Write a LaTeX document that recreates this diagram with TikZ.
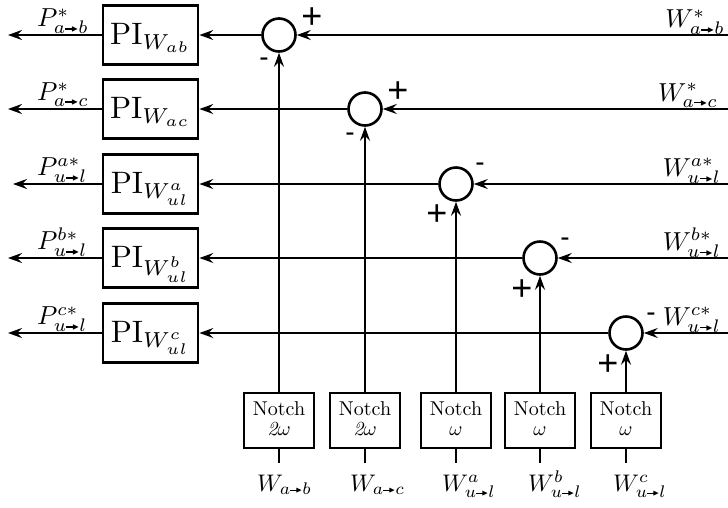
\documentclass[tikz,border=0pt]{standalone}
\usepackage{amsmath,amssymb}
\usepackage{fontspec}
\newfontfamily\signfont{Liberation Sans}
\usetikzlibrary{arrows.meta}

% short arrow with a filled head, used inside subscripts
\newcommand{\tarr}{\mathrel{\text{\rule[0.22em]{0.45em}{0.08em}\kern-0.12em\raisebox{0.13em}{\scalebox{0.45}{$\blacktriangleright$}}}}}
% text set at 10pt and enlarged
\newcommand{\enl}[2]{\scalebox{#1}{#2}}

\begin{document}
\begin{tikzpicture}[x=1pt,y=-1pt,
  line width=2.2pt,
  >={Stealth[length=14pt,width=10pt,inset=5pt]},
  pibox/.style={draw,line width=2.8pt,minimum width=95pt,minimum height=59pt,
    inner sep=0pt,text height=25pt,text depth=6pt},
  sumnode/.style={draw,circle,line width=2.6pt,minimum size=33pt,inner sep=0pt},
  notchbox/.style={draw,line width=2.6pt,minimum width=70pt,minimum height=55pt,
    inner sep=0pt,align=center},
  plussign/.style={font=\signfont\fontsize{36}{36}\selectfont,inner sep=0pt},
  minussign/.style={font=\signfont\fontsize{28}{28}\selectfont,inner sep=0pt},
  textlabel/.style={anchor=base west,inner sep=0pt},
  rightlabel/.style={anchor=base east,inner sep=0pt},
]
\useasboundingbox (0,0) rectangle (728,507);

% PI controllers
\node[pibox] (pi1) at (150.5,35)  {\enl{3.1}{$\mathrm{PI}_{W_{ab}}$}};
\node[pibox] (pi2) at (150.5,109) {\enl{3.1}{$\mathrm{PI}_{W_{ac}}$}};
\node[pibox] (pi3) at (150.5,184) {\enl{3.1}{$\mathrm{PI}_{W^{a}_{ul}}$}};
\node[pibox] (pi4) at (150.5,258) {\enl{3.1}{$\mathrm{PI}_{W^{b}_{ul}}$}};
\node[pibox] (pi5) at (150.5,333) {\enl{3.1}{$\mathrm{PI}_{W^{c}_{ul}}$}};

% summing junctions
\node[sumnode] (s1) at (279,35)  {};
\node[sumnode] (s2) at (365,109) {};
\node[sumnode] (s3) at (456,184) {};
\node[sumnode] (s4) at (540,258) {};
\node[sumnode] (s5) at (626,333) {};

% notch filters
\node[notchbox] (n1) at (279,420.5) {\enl{2}{\begin{tabular}{@{}c@{}}Notch\\[-2pt]$\mathit{2}\omega$\end{tabular}}};
\node[notchbox] (n2) at (365,420.5) {\enl{2}{\begin{tabular}{@{}c@{}}Notch\\[-2pt]$\mathit{2}\omega$\end{tabular}}};
\node[notchbox] (n3) at (456,420.5) {\enl{2}{\begin{tabular}{@{}c@{}}Notch\\[-2pt]$\omega$\end{tabular}}};
\node[notchbox] (n4) at (540,420.5) {\enl{2}{\begin{tabular}{@{}c@{}}Notch\\[-2pt]$\omega$\end{tabular}}};
\node[notchbox] (n5) at (626,420.5) {\enl{2}{\begin{tabular}{@{}c@{}}Notch\\[-2pt]$\omega$\end{tabular}}};

% free ends
\coordinate (o1) at (8,35);
\coordinate (o2) at (8,109);
\coordinate (o3) at (13,184);
\coordinate (o4) at (8,258);
\coordinate (o5) at (8,333);
\coordinate (r1) at (728,35);
\coordinate (r2) at (728,109);
\coordinate (r3) at (728,184);
\coordinate (r4) at (728,258);
\coordinate (r5) at (728,333);
\coordinate (m1) at (279,463);
\coordinate (m2) at (365,463);
\coordinate (m3) at (456,463);
\coordinate (m4) at (540,463);
\coordinate (m5) at (626,463);

% connectors
\foreach \i in {1,...,5}{
  \draw[->] (pi\i.west) -- (o\i);
  \draw[->] (s\i.west) -- (pi\i.east);
  \draw[->] (r\i) -- (s\i.east);
  \draw[->] (n\i.north) -- (s\i.south);
  \draw (n\i.south) -- (m\i);
}

% signs
\node[plussign]  (p1) at (312,18)  {+};
\node[minussign] (q1) at (264,62)  {-};
\node[plussign]  (p2) at (398,92)  {+};
\node[minussign] (q2) at (350,137) {-};
\node[minussign] (q3) at (480,167) {-};
\node[plussign]  (p3) at (437,215) {+};
\node[minussign] (q4) at (565,242) {-};
\node[plussign]  (p4) at (522,290) {+};
\node[minussign] (q5) at (651,317) {-};
\node[plussign]  (p5) at (608,365) {+};

% output labels
\node[textlabel] (lo1) at (36,26.5)  {\enl{2.6}{$P^{*}_{a\tarr b}$}};
\node[textlabel] (lo2) at (36,100.5) {\enl{2.6}{$P^{*}_{a\tarr c}$}};
\node[textlabel] (lo3) at (36,175.5) {\enl{2.6}{$P^{a*}_{u\tarr l}$}};
\node[textlabel] (lo4) at (36,249.5) {\enl{2.6}{$P^{b*}_{u\tarr l}$}};
\node[textlabel] (lo5) at (36,324.5) {\enl{2.6}{$P^{c*}_{u\tarr l}$}};

% reference labels
\node[rightlabel] (lr1) at (726,27.5)  {\enl{2.6}{$W^{*}_{a\tarr b}$}};
\node[rightlabel] (lr2) at (719,101) {\enl{2.6}{$W^{*}_{a\tarr c}$}};
\node[rightlabel] (lr3) at (722,176) {\enl{2.6}{$W^{a*}_{u\tarr l}$}};
\node[rightlabel] (lr4) at (722,250) {\enl{2.6}{$W^{b*}_{u\tarr l}$}};
\node[rightlabel] (lr5) at (722,325) {\enl{2.6}{$W^{c*}_{u\tarr l}$}};

% measured quantities
\node[textlabel] (lm1) at (256,491) {\enl{2.4}{$W_{a\tarr b}$}};
\node[textlabel] (lm2) at (349,491) {\enl{2.4}{$W_{a\tarr c}$}};
\node[textlabel] (lm3) at (441,491) {\enl{2.4}{$W^{a}_{u\tarr l}$}};
\node[textlabel] (lm4) at (527,491) {\enl{2.4}{$W^{b}_{u\tarr l}$}};
\node[textlabel] (lm5) at (612,491) {\enl{2.4}{$W^{c}_{u\tarr l}$}};
\end{tikzpicture}
\end{document}
